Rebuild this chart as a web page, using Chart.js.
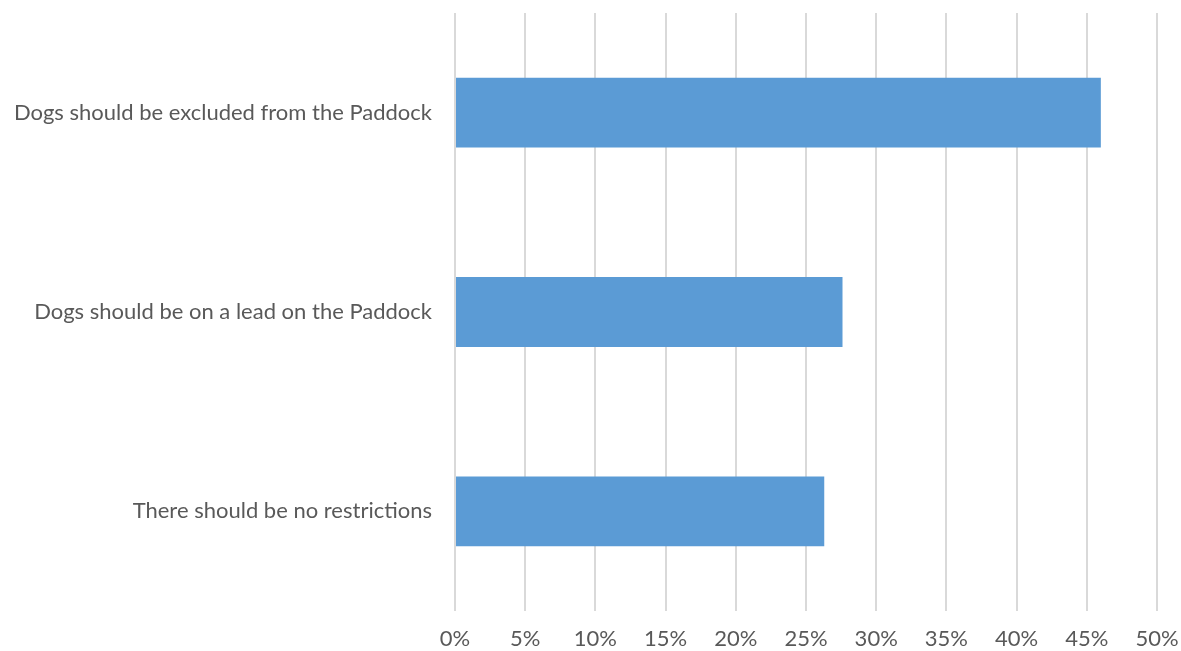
<!DOCTYPE html>
<html>
<head>
<meta charset="utf-8">
<script src="https://cdn.jsdelivr.net/npm/chart.js@4"></script>
<style>
  html, body { margin: 0; padding: 0; background: #fff; }
  #wrap { width: 1181px; height: 651px; }
</style>
</head>
<body>
<div id="wrap"><canvas id="chart" width="1181" height="651"></canvas></div>
<script>
const categories = [
  "Dogs should be excluded from the Paddock",
  "Dogs should be on a lead on the Paddock",
  "There should be no restrictions"
];
const values = [46.0, 27.6, 26.3];
const tickStep = 5;
const axisMax = 50;

const font = { family: "Lato, sans-serif", size: 22 };

new Chart(document.getElementById("chart"), {
  type: "bar",
  data: {
    labels: categories,
    datasets: [{
      data: values,
      backgroundColor: "#5b9bd5",
      borderWidth: 0,
      barPercentage: 0.35,
      categoryPercentage: 1
    }]
  },
  options: {
    indexAxis: "y",
    responsive: false,
    animation: false,
    layout: { padding: { top: 13, right: 24, left: 0, bottom: 0 } },
    plugins: { legend: { display: false }, tooltip: { enabled: false } },
    scales: {
      x: {
        min: 0,
        max: axisMax,
        ticks: {
          stepSize: tickStep,
          color: "#595959",
          font,
          padding: 15,
          callback: v => v + "%"
        },
        grid: { color: "#d9d9d9", lineWidth: 2, drawTicks: false },
        border: { display: false },
        afterFit: s => { s.height = 40; s.paddingLeft = 0; s.paddingRight = 0; }
      },
      y: {
        ticks: { color: "#595959", font, padding: 23 },
        grid: { display: false, drawTicks: false },
        border: { display: false },
        afterFit: s => { s.width = 455; s.paddingTop = 0; s.paddingBottom = 0; }
      }
    }
  }
});
</script>
</body>
</html>
